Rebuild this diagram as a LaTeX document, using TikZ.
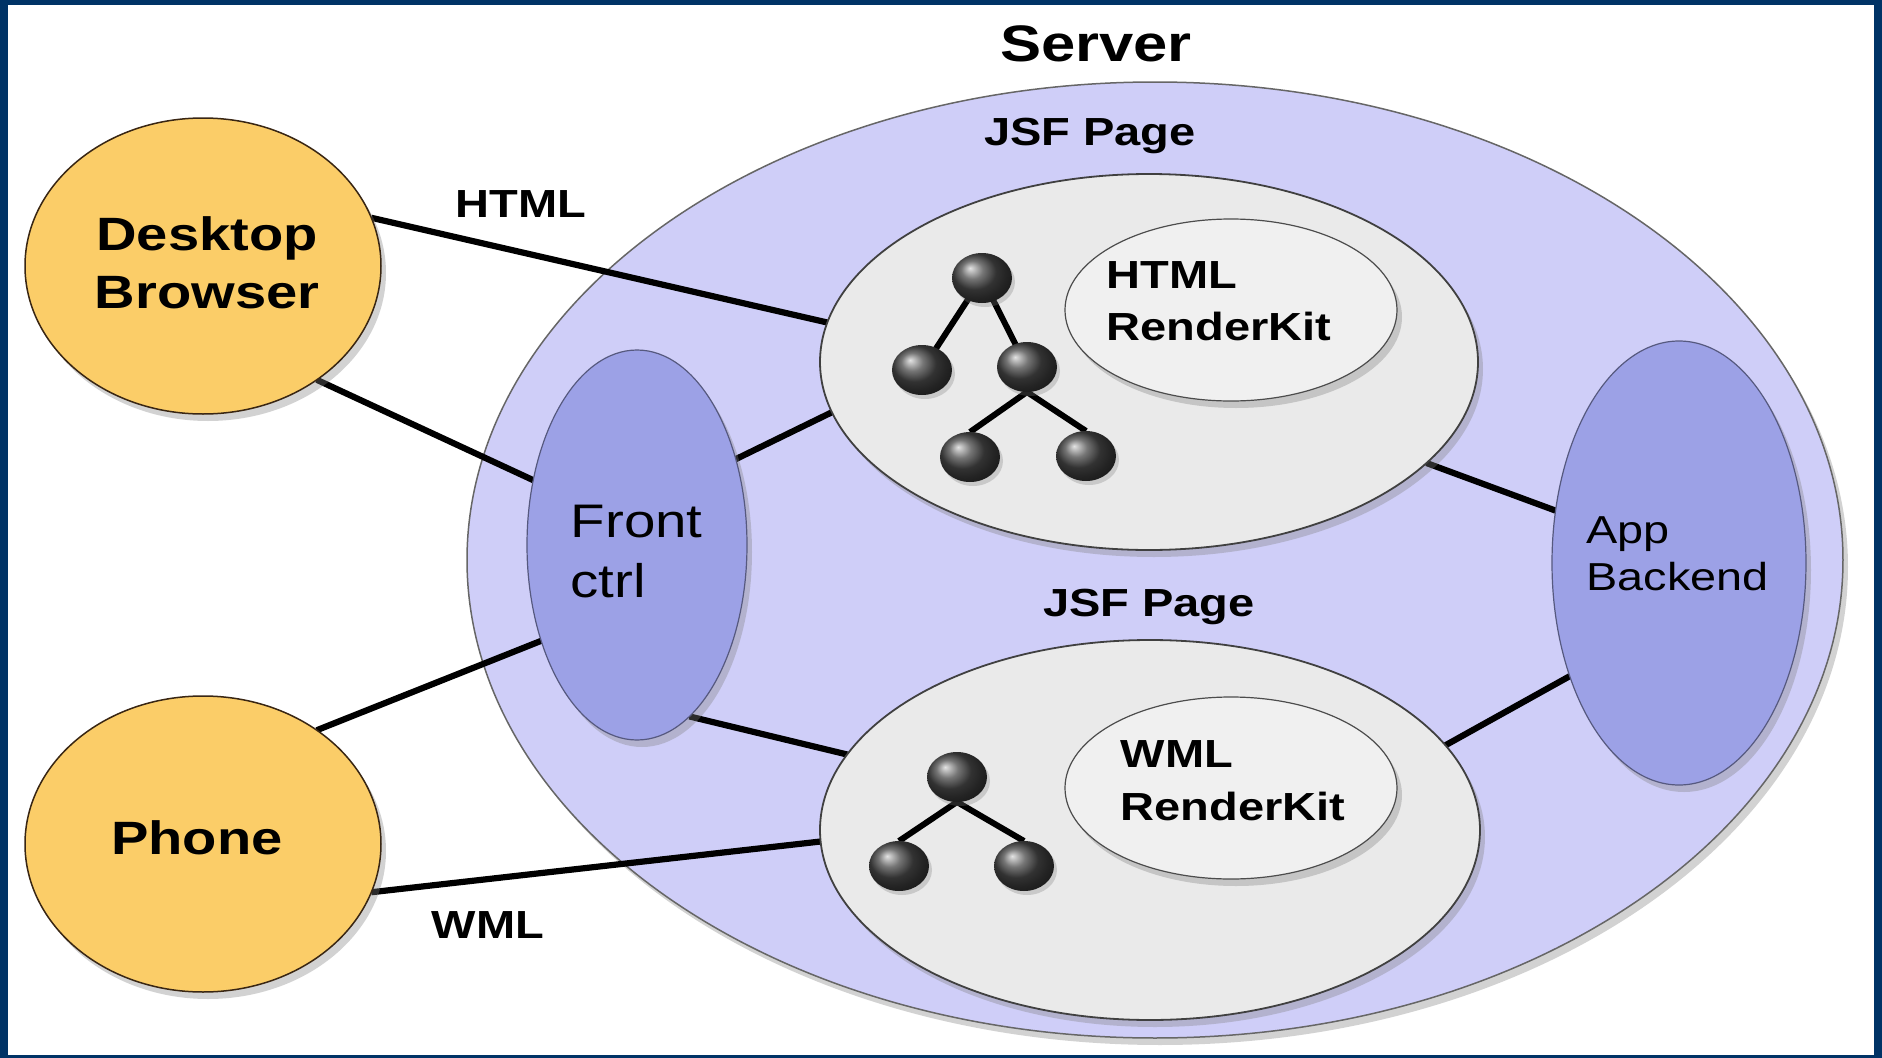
\documentclass[tikz,border=0pt]{standalone}
\usepackage{fontspec}
\setmainfont{Liberation Sans}
\usetikzlibrary{shapes.geometric,shadows}
\definecolor{navy}{RGB}{0,51,102}
\definecolor{gold}{RGB}{251,205,104}
\definecolor{lav}{RGB}{207,206,248}
\definecolor{peri}{RGB}{156,161,230}
\definecolor{pagegray}{RGB}{234,234,234}
\definecolor{kitgray}{RGB}{240,240,240}
\newcommand\sx[1]{\scalebox{1.2}[1]{#1}}
\pgfdeclarelayer{back}
\pgfdeclarelayer{mid}
\pgfdeclarelayer{edges}
\pgfdeclarelayer{front}
\pgfsetlayers{back,mid,main,edges,front}
\tikzset{
  oval/.style={ellipse, inner sep=0pt, outer sep=0pt},
  softshadow/.style={drop shadow={shadow xshift=0.5mm, shadow yshift=-0.7mm, opacity=0.35}},
  client/.style={oval, fill=gold, draw=black!70!brown, line width=0.15mm,
    minimum width=35.6mm, minimum height=29.6mm, softshadow},
  serverbox/.style={oval, fill=lav, draw=black!60, line width=0.15mm,
    minimum width=137.6mm, minimum height=95.6mm, softshadow},
  ctrlbox/.style={oval, fill=peri, draw=black!45!peri, line width=0.12mm, softshadow},
  pagebox/.style={oval, fill=pagegray, draw=black!75, line width=0.18mm, softshadow},
  kitbox/.style={oval, fill=kitgray, draw=black!70, line width=0.12mm,
    minimum width=33.2mm, minimum height=18.2mm, softshadow},
  treeball/.style={oval, shade, ball color=black!72, minimum width=6mm, minimum height=5mm,
    drop shadow={shadow xshift=0.3mm, shadow yshift=-0.4mm, opacity=0.3}},
  wire/.style={line width=0.62mm, black},
  treeline/.style={line width=0.6mm, black},
  bigtxt/.style={inner sep=0pt, anchor=base, font=\fontsize{13.3}{16}\selectfont\bfseries},
  srvtxt/.style={inner sep=0pt, anchor=base, font=\fontsize{14.6}{17}\selectfont\bfseries},
  midtxt/.style={inner sep=0pt, anchor=base, font=\fontsize{11.15}{13}\selectfont\bfseries},
  kittxt/.style={inner sep=0pt, anchor=base west, font=\fontsize{11.15}{13}\selectfont\bfseries},
  fctxt/.style={inner sep=0pt, anchor=base west, font=\fontsize{13.4}{16}\selectfont},
  abtxt/.style={inner sep=0pt, anchor=base west, font=\fontsize{11.1}{13}\selectfont},
}
\begin{document}
\begin{tikzpicture}[x=0.1mm, y=-0.1mm]
\useasboundingbox (0,0) rectangle (1882,1058);
\begin{pgfonlayer}{back}
  \fill[navy] (0,0) rectangle (1882,1058);
  \fill[white] (8,5) rectangle (1874,1055);
  \node[serverbox] (srv) at (1155,560) {};
\end{pgfonlayer}

% main shapes
\node[client] (db) at (203,266) {};
\node[client] (ph) at (203,844) {};
\node[ctrlbox, minimum width=22mm, minimum height=39mm] (fc) at (637,545) {};
\node[ctrlbox, minimum width=25.4mm, minimum height=44.4mm] (ab) at (1679,563) {};
\node[pagebox, minimum width=65.8mm, minimum height=37.6mm] (jsf1) at (1149,362) {};
\node[pagebox, minimum width=66mm, minimum height=38mm] (jsf2) at (1150,830) {};
\node[kitbox] (rk1) at (1231,310) {};
\node[kitbox] (rk2) at (1231,788) {};

\begin{pgfonlayer}{front}
  \node[treeball] (t0) at (982,278) {};
  \node[treeball] (t1) at (922,370) {};
  \node[treeball] (t2) at (1027,367) {};
  \node[treeball] (t3) at (970,457) {};
  \node[treeball] (t4) at (1086,456) {};
  \node[treeball] (u0) at (957,777) {};
  \node[treeball] (u1) at (899,866) {};
  \node[treeball] (u2) at (1024,866) {};

  \node[bigtxt] (tdesk) at (207,250) {\sx{Desktop}};
  \node[bigtxt] (tbrow) at (207,308) {\sx{Browser}};
  \node[bigtxt] (tphone) at (197,854) {\sx{Phone}};
  \node[srvtxt] (tserver) at (1096,61) {\sx{Server}};
  \node[midtxt] (tjsf1) at (1090,145) {\sx{JSF Page}};
  \node[midtxt] (tjsf2) at (1149,616) {\sx{JSF Page}};
  \node[midtxt] (thtml) at (521,217) {\sx{HTML}};
  \node[midtxt] (twml) at (488,938) {\sx{WML}};
  \node[kittxt] (tk1a) at (1106,288) {\sx{HTML}};
  \node[kittxt] (tk1b) at (1106,340) {\sx{RenderKit}};
  \node[kittxt] (tk2a) at (1120,767) {\sx{WML}};
  \node[kittxt] (tk2b) at (1120,820) {\sx{RenderKit}};
  \node[fctxt] (tfc1) at (570,537) {\sx{Front}};
  \node[fctxt] (tfc2) at (570,597) {\sx{ctrl}};
  \node[abtxt] (tab1) at (1586,543) {\sx{App}};
  \node[abtxt] (tab2) at (1586,590) {\sx{Backend}};
\end{pgfonlayer}

\begin{pgfonlayer}{edges}
  \draw[treeline] (t0.center) -- (t1.center);
  \draw[treeline] (t0.center) -- (t2.center);
  \draw[treeline] (t2.south) -- (t3.north);
  \draw[treeline] (t2.south) -- (t4.north);
  \draw[treeline] (u0.south) -- (u1.north);
  \draw[treeline] (u0.south) -- (u2.north);
\end{pgfonlayer}

\begin{pgfonlayer}{mid}
  \draw[wire] (db.16) -- (jsf1.173.4);
  \draw[wire] (db.-45) -- (fc.148);
  \draw[wire] (fc.41.7) -- (jsf1.189.5);
  \draw[wire] (jsf1.-20.3) -- (ab.157.6);
  \draw[wire] (ph.45.5) -- (fc.225);
  \draw[wire] (fc.-73) -- (jsf2.166);
  \draw[wire] (jsf2.16.5) -- (ab.226);
  \draw[wire] (ph.-16) -- (jsf2.182.6);
\end{pgfonlayer}
\end{tikzpicture}
\end{document}
